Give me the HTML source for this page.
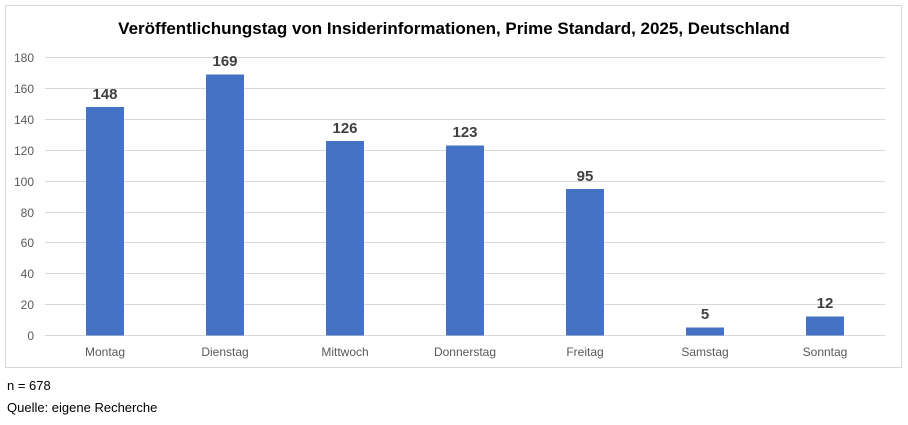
<!DOCTYPE html>
<html><head><style>
body{margin:0;background:#fff;width:908px;height:420px;overflow:hidden;font-family:"Liberation Sans",Arial,sans-serif}
</style></head><body>
<svg width="908" height="420" xmlns="http://www.w3.org/2000/svg">
<rect x="5.5" y="5.5" width="896" height="362" fill="#fff" stroke="#d9d9d9"/>
<text x="454" y="34" text-anchor="middle" font-family="Liberation Sans, sans-serif" font-weight="bold" font-size="17" fill="#000">Veröffentlichungstag von Insiderinformationen, Prime Standard, 2025, Deutschland</text>
<g stroke="#d9d9d9" stroke-width="1">
<line x1="45" x2="885" y1="57.5" y2="57.5"/><line x1="45" x2="885" y1="88.5" y2="88.5"/>
<line x1="45" x2="885" y1="119.5" y2="119.5"/><line x1="45" x2="885" y1="150.5" y2="150.5"/>
<line x1="45" x2="885" y1="181.5" y2="181.5"/><line x1="45" x2="885" y1="212.5" y2="212.5"/>
<line x1="45" x2="885" y1="242.5" y2="242.5"/><line x1="45" x2="885" y1="273.5" y2="273.5"/>
<line x1="45" x2="885" y1="304.5" y2="304.5"/><line x1="45" x2="885" y1="335.5" y2="335.5"/>
</g>
<g font-size="12" fill="#595959" text-anchor="end">
<text x="34" y="62">180</text><text x="34" y="93">160</text><text x="34" y="124">140</text>
<text x="34" y="155">120</text><text x="34" y="186">100</text><text x="34" y="217">80</text>
<text x="34" y="247">60</text><text x="34" y="278">40</text><text x="34" y="309">20</text><text x="34" y="340">0</text>
</g>
<g fill="#4472c4">
<rect x="86" y="107" width="38" height="228.5"/>
<rect x="206" y="74.5" width="38" height="261"/>
<rect x="326" y="141" width="38" height="194.5"/>
<rect x="446" y="145.5" width="38" height="190"/>
<rect x="566" y="189" width="38" height="146.5"/>
<rect x="686" y="327.5" width="38" height="8"/>
<rect x="806" y="316.5" width="38" height="19"/>
</g>
<g font-size="15" font-weight="bold" fill="#404040" text-anchor="middle">
<text x="105" y="99">148</text><text x="225" y="66">169</text><text x="345" y="133">126</text>
<text x="465" y="137">123</text><text x="585" y="181">95</text><text x="705" y="319">5</text><text x="825" y="308">12</text>
</g>
<g font-size="12" fill="#595959" text-anchor="middle">
<text x="105" y="356">Montag</text><text x="225" y="356">Dienstag</text><text x="345" y="356">Mittwoch</text>
<text x="465" y="356">Donnerstag</text><text x="585" y="356">Freitag</text><text x="705" y="356">Samstag</text><text x="825" y="356">Sonntag</text>
</g>
<text x="7" y="390" font-size="13" fill="#000">n = 678</text>
<text x="7" y="412" font-size="13" fill="#000">Quelle: eigene Recherche</text>
</svg>
</body></html>
